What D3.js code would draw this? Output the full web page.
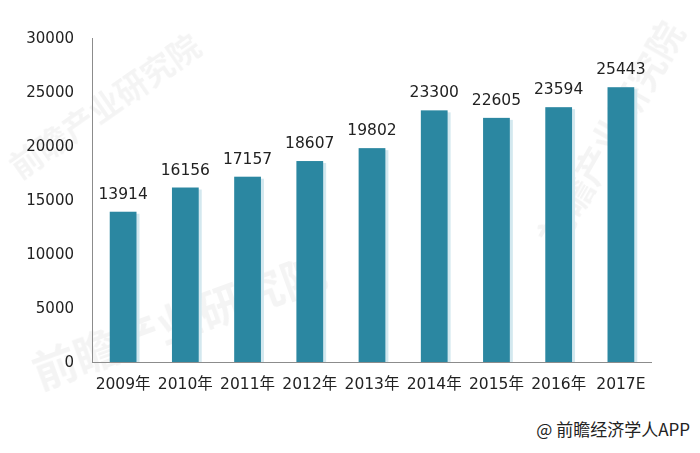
<!DOCTYPE html>
<html><head><meta charset="utf-8">
<script src="https://cdn.jsdelivr.net/npm/d3@7"></script>
<style>body{margin:0;background:#fff;}svg{display:block;}</style>
</head><body>
<svg id="c" width="700" height="453"></svg>
<script>
const categories = ["2009年","2010年","2011年","2012年","2013年","2014年","2015年","2016年","2017E"];
const values = [13914,16156,17157,18607,19802,23300,22605,23594,25443];
const yTicks = [0,5000,10000,15000,20000,25000,30000];
const sourceText = "@ 前瞻经济学人APP";
const watermark = "前瞻产业研究院";

const svg = d3.select("#c");
const L = 92, R = 652, T = 38, B = 362;
const x = d3.scaleBand().domain(categories).range([L, R]).paddingInner(0.57).paddingOuter(0.285);
const y = d3.scaleLinear().domain([0, 30000]).range([B, T]);

// faint watermarks
const wm = svg.append("g").attr("fill", "#000").attr("opacity", 0.045)
  .style("font-family", "'Noto Sans CJK SC', sans-serif").style("font-weight", "bold");
[[20,180,-35,32],[40,390,-20,44],[560,250,-60,36]].forEach(([cx,cy,a,fs])=>{
  wm.append("text").attr("transform",`translate(${cx},${cy}) rotate(${a})`).attr("font-size",fs).text(watermark);
});

// axes
svg.append("line").attr("x1", L+0.5).attr("x2", L+0.5).attr("y1", T).attr("y2", B).attr("stroke", "#8c8c8c").attr("stroke-width", 1);
svg.append("line").attr("x1", L).attr("x2", R).attr("y1", B+0.5).attr("y2", B+0.5).attr("stroke", "#8c8c8c").attr("stroke-width", 1);

const yAxis = d3.axisLeft(y).tickValues(yTicks).tickSize(0).tickPadding(18).tickFormat(d3.format("d"));
const yg = svg.append("g").attr("transform", `translate(${L},0)`).call(yAxis);
yg.select(".domain").remove();
yg.selectAll("text").attr("fill", "#222").style("font-family", "'DejaVu Sans', Verdana, sans-serif").style("font-size", "15px");

// bars with shadow
const bw = x.bandwidth();
svg.append("g").selectAll("rect").data(values).join("rect")
  .attr("x", (d,i) => x(categories[i]) + 3).attr("y", d => y(d) + 2)
  .attr("width", bw).attr("height", d => B - y(d) - 2).attr("fill", "#d3e8ef");
svg.append("g").selectAll("rect").data(values).join("rect")
  .attr("x", (d,i) => x(categories[i])).attr("y", d => y(d))
  .attr("width", bw).attr("height", d => B - y(d)).attr("fill", "#2b87a1");

// value labels
svg.append("g").selectAll("text").data(values).join("text")
  .attr("x", (d,i) => x(categories[i]) + bw/2).attr("y", d => y(d) - 13)
  .attr("text-anchor", "middle").attr("fill", "#222")
  .style("font-family", "'DejaVu Sans', Verdana, sans-serif").style("font-size", "15.5px")
  .text(d => d);

// x labels
const xAxis = d3.axisBottom(x).tickSize(0).tickPadding(16);
const xg = svg.append("g").attr("transform", `translate(0,${B})`).call(xAxis);
xg.select(".domain").remove();
xg.selectAll("text").attr("fill", "#222")
  .style("font-family", "'DejaVu Sans', 'Noto Sans CJK SC', sans-serif").style("font-size", "15.5px");

// source
svg.append("text").attr("x", 690).attr("y", 436).attr("text-anchor", "end").attr("fill", "#222")
  .style("font-family", "'Noto Sans CJK SC', sans-serif").style("font-size", "17px").text(sourceText);
</script>
</body></html>
